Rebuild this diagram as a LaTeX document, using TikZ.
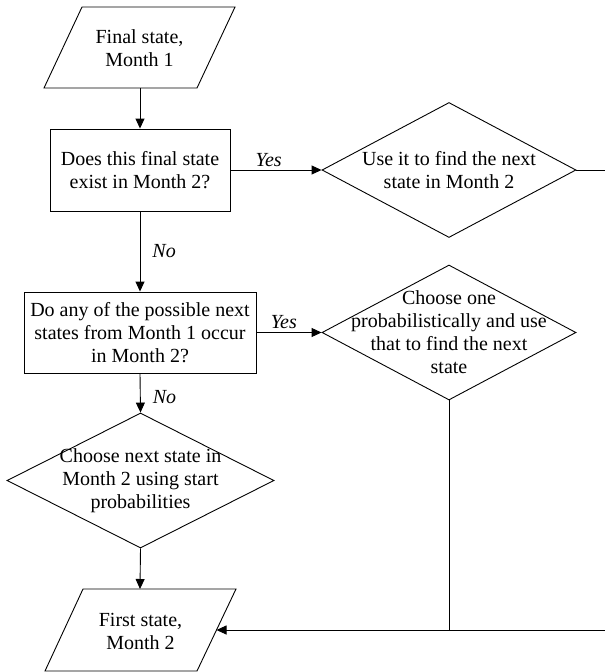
\documentclass[tikz,border=0pt]{standalone}
\usepackage{fontspec}
\setmainfont{Liberation Serif}
\usetikzlibrary{shapes.geometric,arrows.meta}
\tikzset{
  base/.style={draw=black, line width=0.9pt},
  procbox/.style={base, rectangle, inner sep=2pt, align=center},
  decide/.style={base, diamond, inner sep=0pt},
  txt/.style={align=center, inner sep=0pt, font=\fontsize{20}{23}\selectfont},
  conn/.style={line width=0.9pt, -{Triangle[length=10pt,width=9pt]}},
  plain/.style={line width=0.9pt},
  lab/.style={font=\fontsize{20}{23}\selectfont\itshape, inner sep=3pt},
}
\begin{document}
\begin{tikzpicture}[x=1pt,y=-1pt]
\useasboundingbox (0,0) rectangle (605,672);
% parallelogram 1
\draw[base] (82,7) -- (235,7) -- (197,88) -- (44,88) -- cycle;
\node[txt] (p1) at (139.5,48) {Final state,\\Month 1};
\coordinate (p1s) at (140,88);
\node[procbox, minimum width=180pt, minimum height=82pt, font=\fontsize{20}{23}\selectfont] (b1) at (140,170) {Does this final state\\exist in Month 2?};
\node[decide, minimum width=254pt, minimum height=135pt] (d1) at (449,170) {};
\node[txt] (d1t) at (d1.center) {Use it to find the next\\state in Month 2};
\node[procbox, minimum width=232pt, minimum height=81pt, font=\fontsize{20}{23}\selectfont] (b2) at (140,332.5) {Do any of the possible next\\states from Month 1 occur\\in Month 2?};
\node[decide, minimum width=254pt, minimum height=135pt] (d2) at (449,332.5) {};
\node[txt] (d2t) at (d2.center) {Choose one\\probabilistically and use\\that to find the next\\state};
\node[decide, minimum width=267pt, minimum height=135pt] (d3) at (140.5,480.5) {};
\node[txt] (d3t) at (d3.center) {Choose next state in\\Month 2 using start\\probabilities};
% parallelogram 2
\draw[base] (83,589) -- (236,589) -- (197,671) -- (45,671) -- cycle;
\node[txt] (p2) at (140.5,631) {First state,\\Month 2};
\coordinate (p2n) at (140,589);
\coordinate (p2e) at (216.5,630);
% free ends
\coordinate (e1) at (605,170);
\coordinate (e2) at (605,630);
\coordinate (j) at (449,630);
% connectors
\draw[conn] (p1s) -- (b1.north);
\draw[conn] (b1.east) -- node[lab, above, pos=0.42] {Yes} (d1.west);
\draw[plain] (d1.east) -- (e1);
\draw[conn] (b1.south) -- node[lab, right, pos=0.5, xshift=9pt] {No} (b2.north);
\draw[conn] (b2.east) -- node[lab, above, pos=0.42] {Yes} (d2.west);
\draw[conn] (b2.south) -- node[lab, right, pos=0.6, xshift=9pt] {No} (d3.north);
\draw[conn] (d3.south) -- (p2n);
\draw[plain] (d2.south) -- (j);
\draw[conn] (e2) -- (p2e);
\end{tikzpicture}
\end{document}
